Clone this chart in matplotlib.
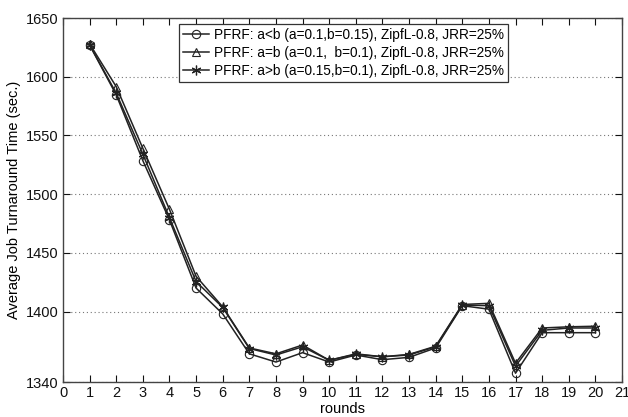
import matplotlib
matplotlib.use("Agg")
import matplotlib.pyplot as plt

plt.rcParams['font.family'] = ['Liberation Sans', 'DejaVu Sans']

rounds = list(range(1, 21))
a_lt_b = [1627, 1584.5, 1528.5, 1478, 1420, 1398, 1364, 1357, 1365, 1357,
          1363, 1359, 1361, 1369, 1405, 1402, 1347.5, 1382, 1382, 1382]
a_eq_b = [1628, 1591.5, 1539, 1487, 1430, 1404, 1369, 1364, 1371.5, 1358.5,
          1364, 1361.5, 1363.5, 1370.5, 1406, 1407, 1356, 1386, 1387, 1387.5]
a_gt_b = [1627, 1586, 1534, 1480, 1425.5, 1403.5, 1368.5, 1363, 1370, 1358.5,
          1363.5, 1361.5, 1363, 1370, 1405.5, 1405, 1353.5, 1384, 1386, 1386]

labels = [
    "PFRF: a<b (a=0.1,b=0.15), ZipfL-0.8, JRR=25%",
    "PFRF: a=b (a=0.1,  b=0.1), ZipfL-0.8, JRR=25%",
    "PFRF: a>b (a=0.15,b=0.1), ZipfL-0.8, JRR=25%",
]
xticks = list(range(0, 22))
yticks = [1340, 1400, 1450, 1500, 1550, 1600, 1650]

fig = plt.figure(figsize=(6.28, 4.17), dpi=100)
ax = fig.add_axes([63/628, 1 - 382/417, (622 - 63)/628, (382 - 18)/417])

line_col = '#222222'
ax.plot(rounds, a_lt_b, color=line_col, lw=1.1, marker='o', ms=6,
        mfc='none', mec=line_col, mew=0.8, label=labels[0])
ax.plot(rounds, a_eq_b, color=line_col, lw=1.1, marker='^', ms=6,
        mfc='none', mec=line_col, mew=0.8, label=labels[1])
ax.plot(rounds, a_gt_b, color=line_col, lw=1.1, marker=(6, 2, 0), ms=7,
        mfc='none', mec=line_col, mew=0.9, label=labels[2])

ax.set_xlim(0, 21)
ax.set_ylim(1340, 1650)
ax.set_xticks(xticks)
ax.set_yticks(yticks)
ax.tick_params(direction='in', top=True, right=True, labelsize=10.5,
               length=5, width=0.8, colors='#111111', pad=3)
ax.grid(axis='y', linestyle=(0, (1, 2.5)), color='#777777', lw=0.8)
ax.grid(axis='x', visible=False)
for s in ax.spines.values():
    s.set_color('#444444')
    s.set_linewidth(1.0)

ax.set_xlabel("rounds", fontsize=10.5, labelpad=1)
ax.set_ylabel("Average Job Turnaround Time (sec.)", fontsize=10.5, labelpad=4)

leg = ax.legend(loc='upper left', bbox_to_anchor=((179 - 63)/559, (382 - 24)/364),
                prop={'size': 9.8}, frameon=True, fancybox=False, framealpha=1,
                edgecolor='#333333', borderpad=0.3, labelspacing=0.3,
                handlelength=1.9, handletextpad=0.35, borderaxespad=0)
leg.get_frame().set_linewidth(0.9)

fig.savefig("out.png", dpi=100)
